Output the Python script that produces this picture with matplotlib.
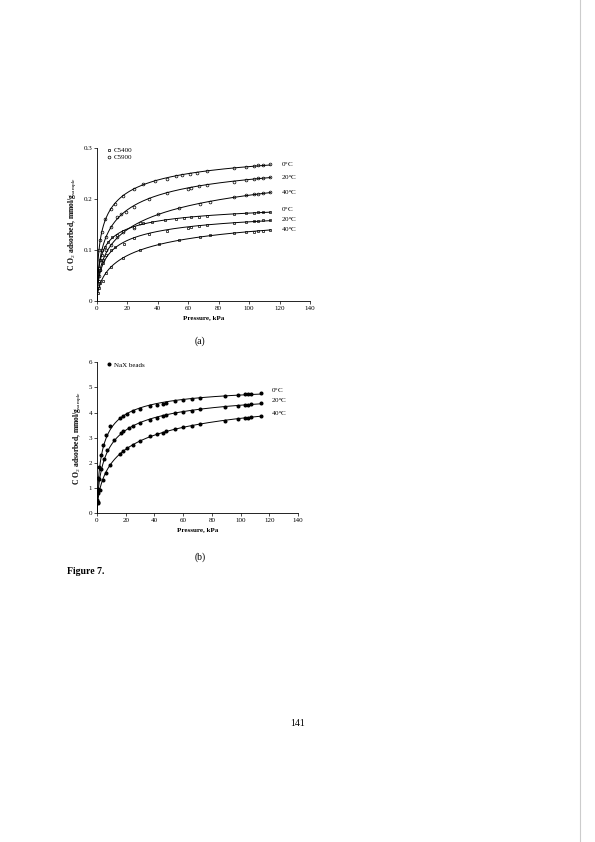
import numpy as np
import matplotlib.pyplot as plt

plt.rcParams['font.family'] = ['Liberation Serif', 'DejaVu Serif']
plt.rcParams['mathtext.fontset'] = 'custom'
plt.rcParams['mathtext.rm'] = 'Liberation Serif'
plt.rcParams['mathtext.bf'] = 'Liberation Serif:bold'

# ---- panel (a): activated carbons ----
c5900_0_p = [0.5, 1, 2, 3, 5, 9, 12, 17, 24, 30, 38, 46, 52, 56, 61, 66, 72, 90, 98, 103, 106, 109, 114]
c5900_0_q = [0.06, 0.1, 0.12, 0.135, 0.16, 0.18, 0.19, 0.205, 0.22, 0.23, 0.235, 0.24, 0.245, 0.247, 0.25, 0.252, 0.254, 0.26, 0.262, 0.265, 0.266, 0.267, 0.268]
c5900_20_p = [0.5, 1, 2, 3, 6, 9, 13, 16, 19, 24, 34, 46, 60, 62, 67, 72, 90, 98, 103, 106, 109, 114]
c5900_20_q = [0.04, 0.065, 0.08, 0.1, 0.125, 0.145, 0.165, 0.17, 0.175, 0.185, 0.2, 0.212, 0.22, 0.222, 0.225, 0.227, 0.234, 0.238, 0.24, 0.241, 0.242, 0.243]
c5900_40_p = [0.5, 1, 2, 4, 6, 9, 13, 17, 24, 28, 40, 54, 68, 74, 90, 98, 103, 106, 109, 114]
c5900_40_q = [0.03, 0.05, 0.06, 0.08, 0.1, 0.11, 0.125, 0.135, 0.143, 0.152, 0.17, 0.182, 0.19, 0.195, 0.203, 0.207, 0.209, 0.21, 0.212, 0.213]
c5400_0_p = [0.5, 1, 2, 3, 5, 7, 10, 13, 17, 24, 30, 36, 45, 52, 57, 62, 67, 72, 90, 98, 103, 106, 109, 114]
c5400_0_q = [0.04, 0.065, 0.08, 0.09, 0.105, 0.115, 0.125, 0.13, 0.137, 0.145, 0.152, 0.155, 0.158, 0.161, 0.162, 0.164, 0.165, 0.167, 0.17, 0.172, 0.173, 0.174, 0.175, 0.175]
c5400_20_p = [0.5, 1, 2, 4, 6, 9, 12, 18, 24, 34, 46, 60, 62, 67, 72, 90, 98, 103, 106, 109, 114]
c5400_20_q = [0.025, 0.04, 0.06, 0.075, 0.09, 0.1, 0.105, 0.112, 0.123, 0.132, 0.138, 0.144, 0.145, 0.147, 0.149, 0.153, 0.155, 0.156, 0.157, 0.158, 0.159]
c5400_40_p = [0.5, 1, 2, 4, 6, 9, 17, 28, 41, 54, 68, 74, 90, 98, 103, 106, 109, 114]
c5400_40_q = [0.015, 0.025, 0.035, 0.04, 0.055, 0.067, 0.085, 0.1, 0.112, 0.12, 0.126, 0.129, 0.133, 0.135, 0.136, 0.137, 0.138, 0.14]

# ---- panel (b): NaX beads ----
nax_0_p = [0.3, 0.6, 1, 1.5, 3, 4, 6, 9, 16, 18, 21, 25, 30, 37, 42, 46, 48, 54, 60, 66, 72, 89, 98, 103, 105, 107, 114]
nax_0_q = [0.5, 0.95, 1.4, 1.85, 2.3, 2.7, 3.1, 3.45, 3.8, 3.88, 3.95, 4.05, 4.15, 4.25, 4.3, 4.35, 4.38, 4.45, 4.5, 4.55, 4.57, 4.65, 4.7, 4.72, 4.73, 4.75, 4.77]
nax_20_p = [0.4, 0.8, 1.5, 3, 5, 7, 12, 17, 18, 22, 25, 30, 37, 42, 46, 48, 54, 60, 66, 72, 89, 98, 103, 105, 107, 114]
nax_20_q = [0.45, 0.9, 1.35, 1.75, 2.15, 2.5, 2.9, 3.2, 3.25, 3.37, 3.45, 3.6, 3.72, 3.8, 3.88, 3.9, 3.97, 4.03, 4.08, 4.13, 4.23, 4.28, 4.3, 4.32, 4.33, 4.37]
nax_40_p = [0.5, 1, 2, 4, 6, 9, 16, 18, 21, 25, 30, 37, 42, 46, 48, 54, 60, 66, 72, 89, 98, 103, 105, 107, 114]
nax_40_q = [0.4, 0.8, 0.9, 1.3, 1.6, 1.9, 2.35, 2.45, 2.6, 2.7, 2.88, 3.05, 3.15, 3.2, 3.25, 3.35, 3.42, 3.48, 3.55, 3.68, 3.75, 3.78, 3.8, 3.82, 3.86]

temps = ['0$^{\\rm o}$C', '20$^{\\rm o}$C', '40$^{\\rm o}$C']


def sips_fit(p, q):
    # Langmuir-Freundlich fit via linearisation P^n/q = 1/(qm b) + P^n/qm, grid over n
    p, q = np.asarray(p, float), np.asarray(q, float)
    best = None
    for n in np.linspace(0.3, 1.2, 91):
        x = p ** n
        slope, icpt = np.polyfit(x, x / q, 1)
        if slope <= 0 or icpt <= 0:
            continue
        qm, b = 1 / slope, slope / icpt
        err = np.sum((qm * b * x / (1 + b * x) - q) ** 2)
        if best is None or err < best[0]:
            best = (err, qm, b, n)
    _, qm, b, n = best
    pp = np.linspace(0, max(p), 300)
    return pp, qm * b * pp ** n / (1 + b * pp ** n)


def style(ax, ymax, yticks):
    for s in ['top', 'right']:
        ax.spines[s].set_visible(False)
    for s in ['left', 'bottom']:
        ax.spines[s].set_linewidth(0.6)
    ax.set_xlim(0, 140)
    ax.set_ylim(0, ymax)
    ax.set_xticks(range(0, 141, 20))
    ax.set_yticks(yticks)
    ax.tick_params(direction='out', length=2, width=0.5, labelsize=5, pad=1.5)
    ax.set_xlabel('Pressure, kPa', fontsize=5, fontweight='bold', labelpad=3)
    ax.set_ylabel('C O$_2$ adsorbed, mmol/g$_{\\rm sample}$', fontsize=5.5,
                  fontweight='bold', labelpad=3)


fig = plt.figure(figsize=(5.95, 8.42), dpi=100)

ax1 = fig.add_axes([0.163, 0.6425, 0.358, 0.1817])
style(ax1, 0.3, [0, 0.1, 0.2, 0.3])
ax1.set_yticklabels(['0', '0.1', '0.2', '0.3'])
sets_a = [(c5900_0_p, c5900_0_q, 'o'), (c5900_20_p, c5900_20_q, 'o'), (c5900_40_p, c5900_40_q, 'o'),
          (c5400_0_p, c5400_0_q, 's'), (c5400_20_p, c5400_20_q, 's'), (c5400_40_p, c5400_40_q, 's')]
for i, (p, q, m) in enumerate(sets_a):
    ax1.plot(p, q, m, ms=2.0, mfc='white', mec='black', mew=0.5)
    pp, qq = sips_fit(p, q)
    ax1.plot(pp, qq, color='black', lw=0.7)
    dy = 0.004 if i == 3 else 0.0
    ax1.text(p[-1] + 7, q[-1] + dy, temps[i % 3], fontsize=5, va='center')
ax1.plot([], [], 's', ms=2.0, mfc='white', mec='black', mew=0.5, label='C5400')
ax1.plot([], [], 'o', ms=2.0, mfc='white', mec='black', mew=0.5, label='C5900')
ax1.legend(loc='upper left', fontsize=5, frameon=False, handletextpad=0.2,
           borderaxespad=0.2, labelspacing=0.1, handlelength=1, bbox_to_anchor=(0.02, 1.03))

ax2 = fig.add_axes([0.163, 0.3907, 0.338, 0.179])
style(ax2, 6, range(0, 7))
sets_b = [(nax_0_p, nax_0_q), (nax_20_p, nax_20_q), (nax_40_p, nax_40_q)]
for i, (p, q) in enumerate(sets_b):
    ax2.plot(p, q, 'o', ms=1.9, color='black', label='NaX beads' if i == 0 else None)
    pp, qq = sips_fit(p, q)
    ax2.plot(pp, qq, color='black', lw=0.7)
    ax2.text(p[-1] + 7, q[-1] + 0.1, temps[i], fontsize=5, va='center')
ax2.legend(loc='upper left', fontsize=5, frameon=False, handletextpad=0.2,
           borderaxespad=0.2, handlelength=1, bbox_to_anchor=(0.02, 1.03))

fig.text(0.336, 1 - 341 / 842, '(a)', fontsize=7, ha='center', va='center')
fig.text(0.336, 1 - 557 / 842, '(b)', fontsize=7, ha='center', va='center')
fig.text(67 / 595, 1 - 571 / 842, 'Figure 7.', fontsize=7, fontweight='bold', va='center')
fig.text(298 / 595, 1 - 724 / 842, '141', fontsize=7, ha='center', va='center')
fig.add_artist(plt.Line2D([580 / 595, 580 / 595], [0, 1], color='#cccccc', lw=0.8))

fig.savefig('out.png', dpi=100)
